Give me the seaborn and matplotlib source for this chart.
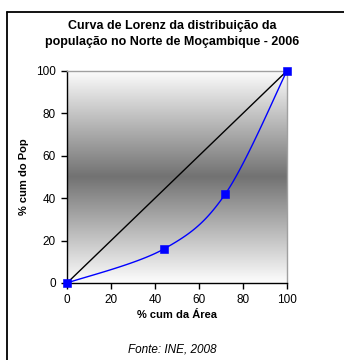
import numpy as np
import pandas as pd
import matplotlib
matplotlib.use("Agg")
import matplotlib.pyplot as plt
import seaborn as sns
from matplotlib.colors import LinearSegmentedColormap

# dados da curva de Lorenz
area_cum = [0, 44, 72, 100]
pop_cum = [0, 16, 42, 100]
igualdade = [0, 44, 72, 100]

titulo = "Curva de Lorenz da distribuição da\npopulação no Norte de Moçambique - 2006"
x_label = "% cum da Área"
y_label = "% cum do Pop"
fonte = "Fonte: INE, 2008"
ticks = [0, 20, 40, 60, 80, 100]


def catmull_rom(xs, ys, n=40):
    # suavização parecida com a do Excel
    px = [xs[0]] + list(xs) + [xs[-1]]
    py = [ys[0]] + list(ys) + [ys[-1]]
    ox, oy = [], []
    for i in range(1, len(px) - 2):
        t = np.linspace(0, 1, n)
        for p, o in ((px, ox), (py, oy)):
            p0, p1, p2, p3 = p[i - 1], p[i], p[i + 1], p[i + 2]
            o.extend(0.5 * ((2 * p1) + (-p0 + p2) * t
                            + (2 * p0 - 5 * p1 + 4 * p2 - p3) * t ** 2
                            + (-p0 + 3 * p1 - 3 * p2 + p3) * t ** 3))
    return ox, oy


sns.set_style("white")
plt.rcParams['font.family'] = ['Liberation Sans', 'DejaVu Sans']
plt.rcParams['text.color'] = 'black'
plt.rcParams['axes.labelcolor'] = 'black'
plt.rcParams['xtick.color'] = 'black'
plt.rcParams['ytick.color'] = 'black'

fig = plt.figure(figsize=(3.44, 3.6), dpi=100)
ax = fig.add_axes([0.195, 0.214, 0.639, 0.589])

# fundo em gradiente
cmap = LinearSegmentedColormap.from_list("g", ["#fdfdfd", "#727272", "#fdfdfd"])
grad = np.linspace(0, 1, 256).reshape(-1, 1)
ax.imshow(grad, cmap=cmap, aspect="auto", extent=[0, 100, 0, 100], zorder=0)

sns.lineplot(x=igualdade, y=igualdade, color="black", lw=1, ax=ax, zorder=2)
sx, sy = catmull_rom(area_cum, pop_cum)
sns.lineplot(x=sx, y=sy, color="#0000ff", lw=1, ax=ax, sort=False, zorder=3)
sns.scatterplot(x=area_cum, y=pop_cum, color="#0000ff", marker="s", s=28,
                edgecolor="#0000ff", ax=ax, zorder=4, clip_on=False)

ax.set_xlim(0, 100)
ax.set_ylim(0, 100)
ax.set_xticks(ticks)
ax.set_yticks(ticks)
ax.tick_params(direction="out", length=4, width=1, color="black",
               labelsize=8.5, bottom=True, left=True, pad=4)
for s in ["left", "bottom"]:
    ax.spines[s].set_color("black")
    ax.spines[s].set_linewidth(1)
for s in ["top", "right"]:
    ax.spines[s].set_color("#a0a0a0")
    ax.spines[s].set_linewidth(1)

ax.set_xlabel(x_label, fontsize=8, fontweight="bold", labelpad=3)
ax.set_ylabel(y_label, fontsize=8, fontweight="bold", labelpad=5)

fig.text(0.5, 0.905, titulo, ha="center", va="center", fontsize=9,
         fontweight="bold", linespacing=1.5)
fig.text(0.5, 0.028, fonte, ha="center", va="center", fontsize=8.5,
         style="italic")

# moldura do gráfico
fig.add_artist(plt.Line2D([0.021, 0.021], [0, 0.967], color="black", lw=1.3))
fig.add_artist(plt.Line2D([0.021, 1], [0.967, 0.967], color="black", lw=1.3))

fig.savefig("out.png", dpi=100)
